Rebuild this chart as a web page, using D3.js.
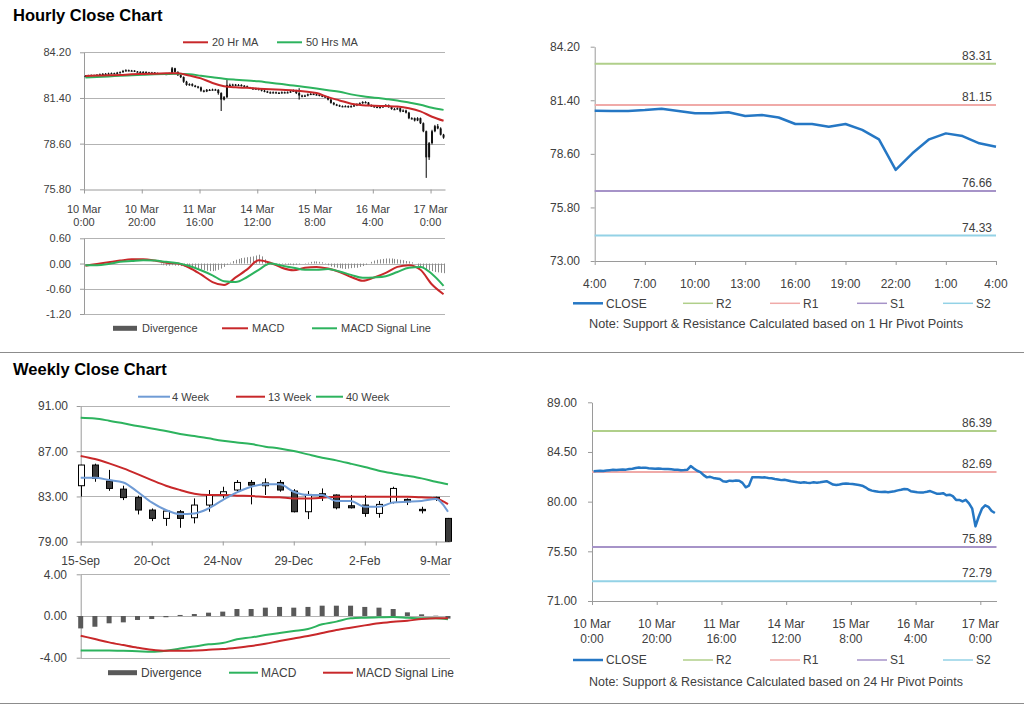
<!DOCTYPE html>
<html><head><meta charset="utf-8">
<script src="https://cdn.jsdelivr.net/npm/d3@7"></script>
<style>body{margin:0;background:#fff}svg text{font-family:"Liberation Sans",Arial,sans-serif}</style>
</head><body><svg id="c" width="1024" height="706"></svg>
<script>
// ---------------- DATA ----------------
// Hourly candles, 10 Mar 0:00 .. 17 Mar 4:00 (125 trading hours)
const hOpen = [82.72,82.75,82.78,82.8,82.78,82.82,82.85,82.88,82.86,82.9,
 82.92,82.9,82.95,82.98,83.05,83.1,83.06,83.08,83.02,83.0,
 82.98,83.0,82.97,82.95,82.96,82.93,82.9,82.88,82.85,82.87,
 82.9,83.22,83.0,82.8,82.68,82.4,82.2,82.25,82.15,82.1,
 82.05,81.85,81.8,81.9,81.88,81.92,81.9,81.7,81.3,81.45,
 82.2,82.2,82.22,82.18,82.2,82.15,82.12,82.05,82.0,81.95,
 81.98,81.92,81.85,81.8,81.75,81.72,81.75,81.72,81.7,81.75,
 81.72,81.75,81.8,81.85,81.7,81.55,81.5,81.55,81.62,81.65,
 81.62,81.6,81.55,81.5,81.45,81.3,81.1,81.0,80.95,80.9,
 80.88,80.9,80.85,80.9,80.95,81.02,81.08,81.15,81.12,80.95,
 80.9,80.85,80.84,80.84,80.89,80.96,80.84,80.72,80.72,80.77,
 80.58,80.63,80.5,80.16,80.16,80.02,80.16,79.85,79.36,77.76,
 78.63,79.36,79.67,79.53,79.15];
const hHigh = [82.8,82.82,82.84,82.83,82.86,82.9,82.92,82.93,82.95,82.96,
 82.95,83.0,83.03,83.12,83.16,83.14,83.12,83.1,83.05,83.04,
 83.04,83.03,83.0,83.0,82.99,82.96,82.93,82.92,82.91,82.95,
 83.3,83.25,83.03,82.84,82.72,82.45,82.3,82.3,82.2,82.14,
 82.1,81.9,81.95,81.95,81.97,81.96,81.94,81.75,81.52,82.5,
 82.28,82.27,82.26,82.25,82.24,82.19,82.16,82.08,82.04,82.02,
 82.02,81.96,81.9,81.84,81.8,81.8,81.79,81.77,81.8,81.79,
 81.8,81.85,81.92,81.9,82.0,81.6,81.6,81.67,81.7,81.69,
 81.66,81.64,81.58,81.53,81.5,81.35,81.15,81.04,80.99,80.94,
 80.95,80.94,80.95,81.0,81.07,81.13,81.2,81.2,81.15,81.0,
 80.95,80.9,80.9,80.94,81.02,81.0,80.88,80.78,80.82,80.8,
 80.7,80.68,80.55,80.22,80.2,80.22,80.2,79.9,79.4,78.7,
 79.45,79.75,79.8,79.6,79.2];
const hLow = [82.68,82.72,82.74,82.75,82.75,82.79,82.82,82.83,82.83,82.87,
 82.87,82.88,82.92,82.95,83.02,83.03,83.03,82.99,82.97,82.94,
 82.95,82.93,82.92,82.92,82.9,82.87,82.85,82.82,82.83,82.85,
 82.88,82.96,82.75,82.62,82.33,82.15,82.15,82.1,82.05,81.98,
 81.78,81.74,81.76,81.84,81.85,81.85,81.6,80.6,81.25,81.4,
 82.12,82.15,82.13,82.14,82.1,82.08,82.0,81.95,81.9,81.92,
 81.86,81.8,81.75,81.7,81.66,81.68,81.67,81.65,81.67,81.68,
 81.69,81.72,81.77,81.64,81.3,81.44,81.46,81.5,81.58,81.58,
 81.55,81.5,81.45,81.4,81.25,81.05,80.95,80.9,80.85,80.83,
 80.84,80.8,80.82,80.86,80.9,80.98,81.04,81.07,80.9,80.85,
 80.8,80.79,80.78,80.8,80.84,80.8,80.68,80.66,80.68,80.52,
 80.54,80.45,80.1,80.08,79.96,79.98,79.8,79.3,76.5,77.6,
 78.55,79.3,79.48,79.1,78.9];
const hClose = [82.75,82.78,82.8,82.78,82.82,82.85,82.88,82.86,82.9,82.92,
 82.9,82.95,82.98,83.05,83.1,83.06,83.08,83.02,83.0,82.98,
 83.0,82.97,82.95,82.96,82.93,82.9,82.88,82.85,82.87,82.9,
 83.22,83.0,82.8,82.68,82.4,82.2,82.25,82.15,82.1,82.05,
 81.85,81.8,81.9,81.88,81.92,81.9,81.7,81.3,81.45,82.2,
 82.2,82.22,82.18,82.2,82.15,82.12,82.05,82.0,81.95,81.98,
 81.92,81.85,81.8,81.75,81.72,81.75,81.72,81.7,81.75,81.72,
 81.75,81.8,81.85,81.7,81.55,81.5,81.55,81.62,81.65,81.62,
 81.6,81.55,81.5,81.45,81.3,81.1,81.0,80.95,80.9,80.88,
 80.9,80.85,80.9,80.95,81.02,81.08,81.15,81.12,80.95,80.9,
 80.85,80.84,80.84,80.89,80.96,80.84,80.72,80.72,80.77,80.58,
 80.63,80.5,80.16,80.16,80.02,80.16,79.85,79.36,77.76,78.63,
 79.36,79.67,79.53,79.15,78.97];
const hTickIdx = [0,20,40,60,80,100,120];
const hTickLab = [["10 Mar","0:00"],["10 Mar","20:00"],["11 Mar","16:00"],["14 Mar","12:00"],["15 Mar","8:00"],["16 Mar","4:00"],["17 Mar","0:00"]];
// moving averages / MACD read every 4 hours (index = k*4)
const SAMPLE_STEP = 4;
const ma20 = [82.75,82.77,82.79,82.81,82.85,82.87,82.89,82.91,82.92,82.77,82.6,82.32,82.12,82.05,82.02,81.97,81.93,81.9,81.86,81.8,81.7,81.45,81.25,81.05,80.96,80.93,80.9,80.87,80.77,80.58,80.25,80.0];
const ma50 = [82.65,82.69,82.72,82.76,82.79,82.82,82.85,82.87,82.88,82.86,82.76,82.67,82.58,82.52,82.47,82.42,82.33,82.25,82.16,82.07,81.98,81.88,81.78,81.62,81.5,81.42,81.34,81.25,81.12,80.98,80.8,80.67];
const hMacd = [-0.05,-0.01,0.03,0.07,0.1,0.1,0.07,0.02,0.0,-0.1,-0.26,-0.44,-0.51,-0.33,-0.14,0.08,0.02,-0.1,-0.16,-0.1,-0.08,-0.12,-0.2,-0.32,-0.41,-0.33,-0.22,-0.08,-0.04,-0.15,-0.5,-0.73];
const hSignal = [-0.04,-0.04,-0.01,0.04,0.06,0.08,0.07,0.04,0.01,-0.06,-0.16,-0.28,-0.42,-0.44,-0.32,-0.15,0.0,-0.05,-0.1,-0.15,-0.15,-0.13,-0.19,-0.27,-0.34,-0.33,-0.3,-0.2,-0.1,-0.08,-0.25,-0.53];
const hDiv = [0,0,0,0,0,0,0,0,0,0,0,0,0,0,0,0,0,0,0,0,0,0,0,0,0,0,
 -0.03,-0.04,-0.05,-0.05,-0.04,-0.05,-0.05,
 -0.06,-0.07,-0.08,-0.08,-0.09,
 -0.1,-0.12,-0.14,-0.16,-0.17,-0.18,-0.18,-0.17,-0.15,-0.12,-0.08,
 -0.03,0.02,
 0.06,0.09,0.11,0.13,0.14,0.15,0.16,0.17,0.19,0.21,0.17,
 0.1,0.05,
 0.01,-0.01,-0.02,-0.02,-0.01,-0.02,-0.03,
 -0.03,-0.04,-0.03,-0.02,0,
 0.01,0.02,
 0.04,0.05,0.05,0.04,0.03,0.01,
 -0.04,-0.07,-0.09,-0.1,-0.11,-0.12,-0.13,-0.12,-0.11,-0.1,-0.1,-0.08,-0.06,-0.03,
 0.0,
 0.04,0.07,0.09,0.1,0.11,0.12,0.12,0.12,0.11,0.1,0.09,0.08,
 0.06,0.05,0.03,0.0,
 -0.06,-0.09,-0.12,-0.14,-0.16,-0.18,-0.2,-0.21,-0.22,-0.23];

// Pivot panels
const pivotFirstIdx = 100; // 16 Mar 4:00
const pivotTickLab = ["4:00","7:00","10:00","13:00","16:00","19:00","22:00","1:00","4:00"];
const levelNames = ["R2","R1","S1","S2"];
const levels1h = [83.31,81.15,76.66,74.33];
const levels24h = [86.39,82.69,75.89,72.79];

// Weekly
const wDates = ["2010-09-15","2010-09-22","2010-09-29","2010-10-06","2010-10-13","2010-10-20","2010-10-27","2010-11-03","2010-11-10","2010-11-17","2010-11-24","2010-12-01","2010-12-08","2010-12-15","2010-12-22","2010-12-29","2011-01-05","2011-01-12","2011-01-19","2011-01-26","2011-02-02","2011-02-09","2011-02-16","2011-02-23","2011-03-02","2011-03-09","2011-03-15"];
const wOpen  = [83.95,85.78,84.36,83.65,82.9,81.8,81.06,81.65,81.12,82.24,83.13,83.57,84.24,83.95,84.24,83.48,81.65,83.24,83.13,82.18,82.24,81.5,82.47,82.74,81.86,82.92,81.06];
const wHigh  = [85.8,85.9,85.35,83.95,83.07,81.94,81.8,81.8,82.83,83.57,83.86,84.45,84.45,84.6,84.45,83.65,83.48,83.71,83.18,83.13,83.13,82.6,83.86,82.83,82.09,82.98,81.1];
const wLow   = [83.0,84.3,83.5,82.68,81.41,80.82,80.4,80.23,80.62,81.65,82.83,83.42,82.3,83.13,83.42,81.59,81.0,82.6,81.86,81.94,81.2,81.12,82.38,82.24,81.5,82.6,76.25];
const wClose = [85.78,84.6,83.71,82.9,81.8,81.06,81.71,81.06,82.24,83.13,83.42,84.24,84.0,84.2,83.57,81.65,83.18,82.98,82.0,82.0,81.5,82.3,83.71,82.53,81.74,82.74,78.97];
const ma4w  = [84.66,84.66,84.45,84.24,83.42,82.47,81.8,81.44,81.5,81.94,82.68,83.36,83.86,84.07,84.07,83.42,83.13,83.13,82.6,82.6,82.09,82.09,82.47,82.53,82.6,82.77,81.65];
const ma13w = [86.58,86.31,85.93,85.48,84.98,84.45,83.95,83.57,83.24,83.13,83.13,83.07,83.04,82.95,82.92,82.83,82.83,82.89,82.98,82.98,82.98,82.98,82.98,82.98,82.92,82.83,82.33];
const ma40w = [89.97,89.9,89.7,89.47,89.23,89.02,88.79,88.52,88.35,88.14,87.93,87.78,87.64,87.4,87.25,87.02,86.72,86.43,86.19,85.9,85.6,85.28,85.04,84.83,84.6,84.3,84.07];
const wMacd   = [-3.3,-3.3,-3.3,-3.33,-3.38,-3.43,-3.33,-3.11,-2.92,-2.72,-2.6,-2.24,-2.05,-1.83,-1.63,-1.44,-1.25,-0.8,-0.54,-0.22,-0.16,-0.13,-0.1,-0.16,-0.22,-0.22,-0.32];
const wSignal = [-1.89,-2.21,-2.53,-2.79,-3.04,-3.24,-3.33,-3.33,-3.3,-3.24,-3.17,-3.04,-2.88,-2.66,-2.4,-2.15,-1.92,-1.63,-1.35,-1.12,-0.9,-0.7,-0.54,-0.45,-0.29,-0.22,-0.22];
const wDiv    = [-1.19,-1.03,-0.7,-0.61,-0.38,-0.29,-0.12,0.1,0.19,0.32,0.42,0.67,0.67,0.8,0.87,0.8,0.87,0.99,0.99,0.99,0.87,0.8,0.67,0.35,0.16,0.03,-0.25];
const wTickDates = ["2010-09-15","2010-10-20","2010-11-24","2010-12-29","2011-02-02","2011-03-09"];
const wTickLab = ["15-Sep","20-Oct","24-Nov","29-Dec","2-Feb","9-Mar"];

// ---------------- DRAWING ----------------
const svg = d3.select("#c");
const TXT = "#404040", GRID = "#b3b3b3", AXIS = "#9a9a9a";
const C = {red:"#c8282a", green:"#2db35e", blue:"#6f9bd5", closeBlue:"#2577c4",
  lv:["#b0cf8a","#f0aaa8","#a693c8","#93d2e6"], div:"#595959"};
const fmt2 = d => d.toFixed(2);

svg.append("rect").attr("width",1024).attr("height",706).attr("fill","#fff");
svg.append("text").attr("x",13).attr("y",21).attr("font-size",16.5).attr("font-weight","bold").attr("fill","#000").text("Hourly Close Chart");
svg.append("text").attr("x",13).attr("y",375).attr("font-size",16.5).attr("font-weight","bold").attr("fill","#000").text("Weekly Close Chart");
[352.5,703.5].forEach(y=>svg.append("line").attr("x1",0).attr("x2",1024).attr("y1",y).attr("y2",y).attr("stroke","#8c8c8c"));

function styleAxis(a,size){
  a.select(".domain").attr("stroke",AXIS);
  a.selectAll(".tick line").attr("stroke",AXIS);
  a.selectAll(".tick text").attr("fill",TXT).attr("font-size",size).attr("font-family",'"Liberation Sans",Arial,sans-serif');
}
function grid(g,y,vals,x0,x1){
  g.append("g").selectAll("line").data(vals).join("line")
   .attr("x1",x0).attr("x2",x1).attr("y1",d=>Math.round(y(d))+0.5).attr("y2",d=>Math.round(y(d))+0.5)
   .attr("stroke",GRID);
}
function yAxis(g,y,vals,x0,labelRight,size){
  const a = g.append("g").attr("transform",`translate(${x0},0)`)
    .call(d3.axisLeft(y).tickValues(vals).tickFormat(fmt2).tickSize(4).tickSizeOuter(0).tickPadding(x0-labelRight-4));
  styleAxis(a,size);
}
function twoLine(g,xs,labels,y1,y2,size){
  const t = g.append("g").selectAll("text").data(labels).join("text")
    .attr("text-anchor","middle").attr("font-size",size).attr("fill",TXT);
  t.append("tspan").attr("x",(d,i)=>xs[i]).attr("y",y1).text(d=>d[0]);
  t.append("tspan").attr("x",(d,i)=>xs[i]).attr("y",y2).text(d=>d[1]);
}
function legendLine(g,x0,x1,y,color,w,label,tx,size){
  g.append("line").attr("x1",x0).attr("x2",x1).attr("y1",y).attr("y2",y).attr("stroke",color).attr("stroke-width",w);
  g.append("text").attr("x",tx).attr("y",y+size*0.36).attr("font-size",size).attr("fill",TXT).text(label);
}
function legendBar(g,x0,x1,y,label,tx,size){
  g.append("rect").attr("x",x0).attr("y",y-2.5).attr("width",x1-x0).attr("height",5).attr("fill",C.div);
  g.append("text").attr("x",tx).attr("y",y+size*0.36).attr("font-size",size).attr("fill",TXT).text(label);
}

// ===== Panel A: hourly candles =====
{
  const g = svg.append("g");
  const x = d3.scaleLinear([0,125],[84,445]);
  const y = d3.scaleLinear([75.8,84.2],[189.3,52.3]);
  grid(g,y,[78.6,81.4,84.2],84,445);
  const a = g.append("g").attr("transform","translate(0,189.5)")
    .call(d3.axisBottom(x).tickValues(hTickIdx).tickFormat("").tickSize(4).tickSizeOuter(0));
  styleAxis(a,11);
  yAxis(g,y,[75.8,78.6,81.4,84.2],84,71,11);
  twoLine(g,hTickIdx.map(i=>x(i)),hTickLab,213,225.5,11);
  const cg = g.append("g");
  cg.selectAll("line").data(hClose).join("line")
    .attr("x1",(d,i)=>x(i+0.5)).attr("x2",(d,i)=>x(i+0.5))
    .attr("y1",(d,i)=>y(hHigh[i])).attr("y2",(d,i)=>y(hLow[i])).attr("stroke","#000").attr("stroke-width",1);
  cg.selectAll("rect").data(hClose).join("rect")
    .attr("x",(d,i)=>x(i+0.5)-1).attr("width",2)
    .attr("y",(d,i)=>y(Math.max(hOpen[i],d)))
    .attr("height",(d,i)=>Math.max(1.2,Math.abs(y(hOpen[i])-y(d))))
    .attr("fill","#111");
  const line = d3.line().x((d,k)=>x(k*SAMPLE_STEP+0.5)).y(d=>y(d)).curve(d3.curveMonotoneX);
  g.append("path").attr("d",line(ma50)).attr("fill","none").attr("stroke",C.green).attr("stroke-width",2);
  g.append("path").attr("d",line(ma20)).attr("fill","none").attr("stroke",C.red).attr("stroke-width",2);
  legendLine(g,183,208,42.3,C.red,2,"20 Hr MA",212,11);
  legendLine(g,277,302,42.3,C.green,2,"50 Hrs MA",306,11);
}

// ===== Panel B: hourly MACD =====
{
  const g = svg.append("g");
  const x = d3.scaleLinear([0,125],[84,445]);
  const y = d3.scaleLinear([-1.2,0.6],[314,238.3]);
  grid(g,y,[-1.2,-0.6,0,0.6],84,445);
  yAxis(g,y,[-1.2,-0.6,0,0.6],84,71,11);
  g.append("g").selectAll("line").data(hDiv).join("line")
    .attr("x1",(d,i)=>Math.round(x(i+0.5))+0.5).attr("x2",(d,i)=>Math.round(x(i+0.5))+0.5)
    .attr("y1",y(0)).attr("y2",d=>y(d)).attr("stroke","#8a8a8a").attr("stroke-width",1);
  const line = d3.line().x((d,k)=>x(k*SAMPLE_STEP+0.5)).y(d=>y(d)).curve(d3.curveMonotoneX);
  g.append("path").attr("d",line(hMacd)).attr("fill","none").attr("stroke",C.red).attr("stroke-width",2);
  g.append("path").attr("d",line(hSignal)).attr("fill","none").attr("stroke",C.green).attr("stroke-width",2);
  legendBar(g,113,137,328.3,"Divergence",142,11);
  legendLine(g,222,248,328.3,C.red,2,"MACD",252,11);
  legendLine(g,312,337,328.3,C.green,2,"MACD Signal Line",341,11);
}

// ===== Pivot panel helper =====
function pivotPanel(opt){
  const g = svg.append("g");
  const {x,y} = opt;
  const xa = g.append("g").attr("transform",`translate(0,${Math.round(opt.y0)})`)
    .call(d3.axisBottom(x).tickValues(opt.tickIdx).tickFormat("").tickSize(4).tickSizeOuter(0));
  styleAxis(xa,12);
  yAxis(g,y,opt.yTicks,opt.x0,opt.labelRight,12);
  opt.levels.forEach((v,k)=>{
    g.append("line").attr("x1",opt.x0).attr("x2",opt.x1).attr("y1",y(v)).attr("y2",y(v))
      .attr("stroke",C.lv[k]).attr("stroke-width",2);
    g.append("text").attr("x",992).attr("y",y(v)-4).attr("text-anchor","end")
      .attr("font-size",12).attr("fill",TXT).text(v.toFixed(2));
  });
  g.append("path").attr("d",d3.line().x((d,i)=>opt.px(i)).y(d=>y(d))(opt.close))
    .attr("fill","none").attr("stroke",C.closeBlue).attr("stroke-width",2.5).attr("stroke-linejoin","round");
  const ly = opt.legendY;
  legendLine(g,573,603,ly,C.closeBlue,2.5,"CLOSE",606,12);
  const lx = [683,770,857,943];
  levelNames.forEach((n,k)=>legendLine(g,lx[k],lx[k]+30,ly,C.lv[k],1.5,n,lx[k]+33,12));
  g.append("text").attr("x",589).attr("y",opt.noteY).attr("font-size",12).attr("fill",TXT)
    .attr("textLength",374).attr("lengthAdjust","spacingAndGlyphs").text(opt.note);
  return g;
}

// ===== Panel C: 1 hr pivot =====
{
  const x = d3.scaleLinear([0,24],[594.7,996]);
  const y = d3.scaleLinear([73,84.2],[261,46.7]);
  const idx = pivotTickLab.map((d,k)=>k*3);
  const g = pivotPanel({x,y,x0:594.7,x1:996,y0:261,tickIdx:idx,yTicks:[73,75.8,78.6,81.4,84.2],labelRight:580,
    levels:levels1h,close:hClose.slice(pivotFirstIdx),px:i=>x(i),legendY:303.3,noteY:327.5,
    note:"Note: Support & Resistance Calculated based on 1 Hr Pivot Points"});
  g.append("g").selectAll("text").data(pivotTickLab).join("text")
    .attr("x",(d,k)=>x(idx[k])).attr("y",287.5).attr("text-anchor","middle")
    .attr("font-size",12).attr("fill",TXT).text(d=>d);
}

// ===== Panel F: 24 hr pivot =====
{
  const x = d3.scaleLinear([0,125],[592,996.5]);
  const y = d3.scaleLinear([71,89],[601,402.3]);
  const g = pivotPanel({x,y,x0:592,x1:996.5,y0:601,tickIdx:hTickIdx,yTicks:[71,75.5,80,84.5,89],labelRight:577,
    levels:levels24h,close:hClose,px:i=>x(i+0.5),legendY:660,noteY:685.5,
    note:"Note: Support & Resistance Calculated based on 24 Hr Pivot Points"});
  twoLine(g,hTickIdx.map(i=>x(i)),hTickLab,627.5,642.5,12);
}

// ===== Panel D: weekly candles =====
const wParse = s => new Date(s+"T00:00:00Z");
const xW = d3.scaleUtc([wParse("2010-09-15"),wParse("2011-03-16")],[80.7,450]);
{
  const g = svg.append("g");
  const y = d3.scaleLinear([79,91],[541.7,406]);
  grid(g,y,[83,87,91],80.7,450);
  const a = g.append("g").attr("transform","translate(0,541.5)")
    .call(d3.axisBottom(xW).tickValues(wTickDates.map(wParse)).tickFormat("").tickSize(4).tickSizeOuter(0));
  styleAxis(a,12);
  yAxis(g,y,[79,83,87,91],80.7,68,12);
  g.append("g").selectAll("text").data(wTickLab).join("text")
    .attr("x",(d,i)=>xW(wParse(wTickDates[i]))).attr("y",565).attr("text-anchor","middle")
    .attr("font-size",12).attr("fill",TXT).text(d=>d);
  svg.append("clipPath").attr("id","clipW").append("rect").attr("x",76).attr("y",406).attr("width",376).attr("height",135.7);
  const cg = g.append("g").attr("clip-path","url(#clipW)");
  const xs = wDates.map(d=>Math.round(xW(wParse(d)))+0.5);
  cg.selectAll("line").data(wClose).join("line")
    .attr("x1",(d,i)=>xs[i]).attr("x2",(d,i)=>xs[i])
    .attr("y1",(d,i)=>y(wHigh[i])).attr("y2",(d,i)=>y(wLow[i])).attr("stroke","#000");
  cg.selectAll("rect").data(wClose).join("rect")
    .attr("x",(d,i)=>xs[i]-3).attr("width",6)
    .attr("y",(d,i)=>y(Math.max(wOpen[i],d)))
    .attr("height",(d,i)=>Math.max(1,Math.abs(y(wOpen[i])-y(d))))
    .attr("fill",(d,i)=>d<wOpen[i]?"#3a3a3a":"#fff").attr("stroke","#000").attr("stroke-width",1);
  const line = d3.line().x((d,i)=>xW(wParse(wDates[i]))).y(d=>y(d)).curve(d3.curveMonotoneX);
  const lg = g.append("g").attr("clip-path","url(#clipW)");
  lg.append("path").attr("d",line(ma40w)).attr("fill","none").attr("stroke",C.green).attr("stroke-width",2);
  lg.append("path").attr("d",line(ma13w)).attr("fill","none").attr("stroke",C.red).attr("stroke-width",2);
  lg.append("path").attr("d",line(ma4w)).attr("fill","none").attr("stroke",C.blue).attr("stroke-width",2);
  legendLine(g,138,170,396.7,C.blue,2,"4 Week",172,11);
  legendLine(g,236,265,396.7,C.red,2,"13 Week",268,11);
  legendLine(g,316,343,396.7,C.green,2,"40 Week",346,11);
}

// ===== Panel E: weekly MACD =====
{
  const g = svg.append("g");
  const y = d3.scaleLinear([-4,4],[657.7,574.3]);
  grid(g,y,[-4,0,4],80.7,450);
  yAxis(g,y,[-4,0,4],80.7,67,12);
  g.append("g").selectAll("rect").data(wDiv).join("rect")
    .attr("x",(d,i)=>xW(wParse(wDates[i]))-2.5).attr("width",5)
    .attr("y",d=>y(Math.max(0,d))).attr("height",d=>Math.abs(y(d)-y(0)))
    .attr("fill",C.div);
  const line = d3.line().x((d,i)=>xW(wParse(wDates[i]))).y(d=>y(d)).curve(d3.curveMonotoneX);
  g.append("path").attr("d",line(wMacd)).attr("fill","none").attr("stroke",C.green).attr("stroke-width",2);
  g.append("path").attr("d",line(wSignal)).attr("fill","none").attr("stroke",C.red).attr("stroke-width",2);
  legendBar(g,108,137,672.7,"Divergence",141,12);
  legendLine(g,229,258,672.7,C.green,2,"MACD",261,12);
  legendLine(g,323,353,672.7,C.red,2,"MACD Signal Line",356,12);
}
</script></body></html>
